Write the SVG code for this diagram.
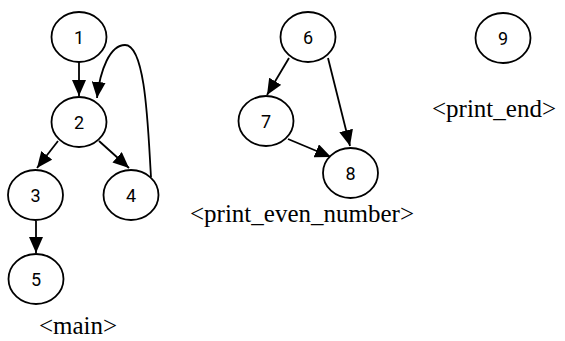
<svg xmlns="http://www.w3.org/2000/svg" width="565" height="341" viewBox="0 0 565 341">
<style>
.node ellipse{fill:#fff;stroke:#000;stroke-width:1.8}
.node text{font-family:Roboto,"Noto Sans",sans-serif;font-size:18px;fill:#000;text-anchor:middle;dominant-baseline:central}
.edge{fill:none;stroke:#000;stroke-width:1.8;marker-end:url(#arr)}
.lbl{font-family:"Liberation Serif","Times New Roman",serif;font-size:25px;fill:#000;text-anchor:middle}
</style>
<defs>
<marker id="arr" viewBox="0 0 16 14" refX="16" refY="7" markerWidth="16" markerHeight="14" markerUnits="userSpaceOnUse" orient="auto">
<path d="M0,0 L16,7 L0,14 z" fill="#000"/>
</marker>
</defs>
<rect width="565" height="341" fill="#fff"/>
<g id="connectors">
<path class="edge" d="M79,61 L79,96"/>
<path class="edge" d="M58,141 L37,168"/>
<path class="edge" d="M99,141 L129,168"/>
<path class="edge" d="M36,221 L36,253"/>
<path class="edge" d="M151,177 C148,130 146,45 125,45 C110,45 100,70 97,98"/>
<path class="edge" d="M289,58 L267,95"/>
<path class="edge" d="M328,58 L350,146"/>
<path class="edge" d="M288,139 L331,157"/>
</g>
<g id="n1" class="node"><ellipse cx="79" cy="37" rx="27.5" ry="25"/><text x="79" y="37">1</text></g>
<g id="n2" class="node"><ellipse cx="79" cy="122" rx="27.5" ry="25"/><text x="79" y="122">2</text></g>
<g id="n3" class="node"><ellipse cx="35.5" cy="195" rx="27.5" ry="25"/><text x="35.5" y="195">3</text></g>
<g id="n4" class="node"><ellipse cx="131" cy="195" rx="27.5" ry="25"/><text x="131" y="195">4</text></g>
<g id="n5" class="node"><ellipse cx="36" cy="279" rx="27.5" ry="25"/><text x="36" y="279">5</text></g>
<g id="n6" class="node"><ellipse cx="308" cy="37" rx="27.5" ry="25"/><text x="308" y="37">6</text></g>
<g id="n7" class="node"><ellipse cx="266" cy="121" rx="27.5" ry="25"/><text x="266" y="121">7</text></g>
<g id="n8" class="node"><ellipse cx="350.5" cy="173" rx="27.5" ry="25"/><text x="350.5" y="173">8</text></g>
<g id="n9" class="node"><ellipse cx="503" cy="38" rx="27.5" ry="25"/><text x="503" y="38">9</text></g>
<text class="lbl" x="78" y="334">&lt;main&gt;</text>
<text class="lbl" x="302" y="222">&lt;print_even_number&gt;</text>
<text class="lbl" x="494" y="117">&lt;print_end&gt;</text>
</svg>
